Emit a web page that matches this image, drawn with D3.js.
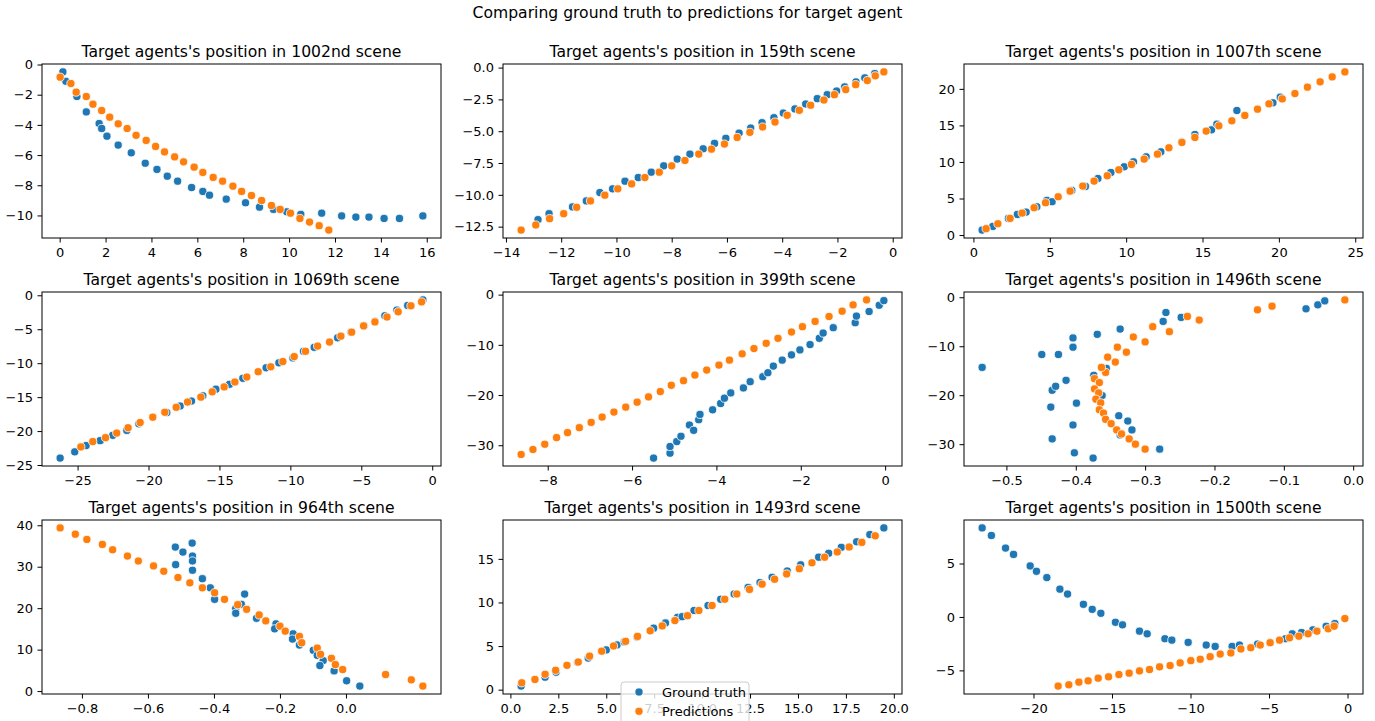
<!DOCTYPE html>
<html>
<head>
<meta charset="utf-8">
<script src="https://cdn.jsdelivr.net/npm/d3@7"></script>
<style>
  body { margin: 0; background: #fff; }
  text { font-family: "DejaVu Sans", sans-serif; }
</style>
</head>
<body>
<svg id="fig" width="1375" height="721"></svg>
<script>
// ground truth / prediction pairs [x, y]
var truth1002 = [[0.14,-0.49],[0.27,-1.11],[0.75,-2.12],[1.16,-3.14],[1.72,-3.91],[1.83,-4.24],[2.06,-4.75],[2.55,-5.34],[3.12,-5.85],[3.73,-6.54],[4.24,-6.95],[4.69,-7.4],[5.14,-7.73],[5.75,-8.15],[6.24,-8.41],[6.53,-8.66],[7.26,-8.92],[8.1,-9.16],[8.71,-9.45],[9.32,-9.6],[9.9,-9.76],[10.51,-9.93],[11.42,-9.85],[12.29,-10.03],[12.91,-10.11],[13.48,-10.11],[14.14,-10.2],[14.81,-10.2],[15.83,-10.03]];
var pred1002 = [[0.02,-0.84],[0.49,-1.26],[0.72,-1.83],[1.16,-2.12],[1.45,-2.63],[1.83,-3.05],[2.18,-3.49],[2.55,-3.93],[2.94,-4.24],[3.33,-4.69],[3.77,-5.03],[4.18,-5.43],[4.57,-5.79],[5.01,-6.12],[5.4,-6.45],[5.86,-6.8],[6.24,-7.15],[6.69,-7.48],[7.1,-7.73],[7.55,-8.06],[7.93,-8.41],[8.36,-8.68],[8.8,-9.01],[9.23,-9.34],[9.61,-9.6],[10.06,-9.85],[10.47,-10.2],[10.89,-10.44],[11.31,-10.68],[11.73,-10.97]];

var truth159 = [[-12.84,-11.95],[-12.44,-11.48],[-11.59,-10.95],[-11.09,-10.48],[-10.6,-9.82],[-10.14,-9.53],[-9.69,-8.93],[-9.21,-8.64],[-8.74,-8.22],[-8.29,-7.72],[-7.8,-7.19],[-7.34,-6.8],[-6.86,-6.38],[-6.45,-5.96],[-6.04,-5.56],[-5.56,-5.15],[-5.14,-4.75],[-4.73,-4.33],[-4.3,-3.94],[-3.96,-3.57],[-3.54,-3.25],[-3.15,-2.86],[-2.73,-2.44],[-2.37,-2.13],[-2.03,-1.84],[-1.74,-1.52],[-1.33,-1.13],[-1.01,-0.81],[-0.65,-0.47]];
var pred159 = [[-13.45,-12.77],[-12.92,-12.37],[-12.42,-11.87],[-11.91,-11.48],[-11.44,-10.98],[-10.94,-10.48],[-10.42,-10.03],[-9.95,-9.53],[-9.45,-9.14],[-8.97,-8.64],[-8.45,-8.22],[-8.0,-7.72],[-7.52,-7.3],[-7.02,-6.8],[-6.56,-6.41],[-6.09,-6.01],[-5.63,-5.49],[-5.17,-5.09],[-4.71,-4.67],[-4.26,-4.28],[-3.82,-3.75],[-3.38,-3.36],[-2.97,-2.96],[-2.49,-2.55],[-2.11,-2.13],[-1.7,-1.73],[-1.34,-1.34],[-0.92,-1.02],[-0.63,-0.65],[-0.32,-0.34]];

var truth1007 = [[0.57,0.68],[1.27,1.18],[2.29,2.28],[2.88,2.82],[3.45,3.14],[4.15,3.87],[4.81,4.74],[5.15,4.56],[6.44,6.1],[7.33,6.65],[8.15,7.74],[9.0,8.56],[9.87,9.34],[10.48,10.02],[11.31,10.71],[12.27,11.39],[13.65,12.76],[14.5,13.76],[15.59,14.4],[15.94,15.17],[17.25,17.04],[19.61,18.09],[20.09,18.86]];
var pred1007 = [[0.83,0.87],[1.6,1.55],[2.4,2.28],[3.19,3.01],[3.97,3.74],[4.72,4.42],[5.55,5.24],[6.33,6.01],[7.16,6.7],[7.9,7.38],[8.76,8.11],[9.52,8.93],[10.35,9.66],[11.18,10.39],[12.05,11.07],[12.8,11.94],[13.65,12.67],[14.5,13.35],[15.24,14.22],[16.07,14.94],[16.92,15.63],[17.77,16.36],[18.6,17.22],[19.35,17.95],[20.22,18.63],[21.05,19.36],[21.87,20.23],[22.7,20.96],[23.49,21.64],[24.32,22.32]];

var truth1069 = [[-26.23,-23.98],[-25.2,-23.06],[-24.4,-22.14],[-23.41,-21.41],[-22.52,-20.63],[-21.53,-19.9],[-20.68,-18.93],[-18.71,-17.28],[-17.77,-16.31],[-16.97,-15.58],[-16.17,-14.81],[-15.25,-13.83],[-14.29,-13.11],[-13.35,-12.23],[-11.71,-10.68],[-10.81,-9.95],[-9.82,-9.22],[-9.07,-8.25],[-8.32,-7.67],[-6.67,-6.26],[-5.73,-5.44],[-4.8,-4.51],[-4.04,-3.83],[-3.34,-3.01],[-2.49,-2.18],[-1.73,-1.5],[-0.66,-0.68]];
var pred1069 = [[-24.77,-22.33],[-23.93,-21.55],[-23.03,-20.97],[-22.24,-20.29],[-21.44,-19.51],[-20.59,-18.74],[-19.7,-17.96],[-18.85,-17.23],[-18.05,-16.5],[-17.25,-15.73],[-16.31,-15.0],[-15.51,-14.22],[-14.67,-13.5],[-13.91,-12.77],[-13.07,-12.04],[-12.27,-11.26],[-11.38,-10.53],[-10.53,-9.76],[-9.73,-9.03],[-8.93,-8.25],[-8.08,-7.48],[-7.24,-6.89],[-6.44,-6.02],[-5.68,-5.44],[-4.84,-4.51],[-4.04,-3.93],[-3.19,-3.2],[-2.4,-2.43],[-1.5,-1.55],[-0.75,-0.97]];

var truth399 = [[-5.49,-32.56],[-5.1,-31.58],[-5.1,-30.26],[-4.94,-29.27],[-4.84,-28.21],[-4.64,-25.97],[-4.54,-27.03],[-4.42,-24.92],[-4.39,-23.86],[-4.09,-22.94],[-3.9,-21.69],[-3.81,-20.63],[-3.66,-19.58],[-3.36,-18.59],[-3.2,-17.34],[-2.9,-16.35],[-2.78,-15.56],[-2.65,-14.24],[-2.44,-13.05],[-2.22,-12.0],[-2.02,-11.01],[-1.78,-9.95],[-1.56,-8.7],[-1.47,-7.65],[-1.23,-6.59],[-0.71,-5.6],[-0.68,-4.28],[-0.38,-3.36],[-0.14,-2.11],[-0.03,-1.19]];
var pred399 = [[-8.63,-31.84],[-8.35,-30.85],[-8.07,-29.8],[-7.79,-28.48],[-7.53,-27.49],[-7.25,-26.5],[-6.97,-25.45],[-6.71,-24.39],[-6.43,-23.4],[-6.15,-22.41],[-5.88,-21.42],[-5.61,-20.37],[-5.33,-19.31],[-5.07,-18.06],[-4.78,-17.14],[-4.51,-16.02],[-4.23,-15.03],[-3.94,-14.04],[-3.69,-13.05],[-3.39,-11.8],[-3.11,-10.74],[-2.82,-9.69],[-2.54,-8.7],[-2.22,-7.45],[-1.96,-6.39],[-1.66,-5.34],[-1.33,-4.35],[-1.02,-3.3],[-0.76,-2.04],[-0.44,-1.05]];

var truth1496 = [[-0.535,-14.32],[-0.449,-11.69],[-0.434,-18.99],[-0.436,-22.43],[-0.429,-18.18],[-0.434,-28.92],[-0.425,-11.69],[-0.414,-16.96],[-0.404,-8.31],[-0.404,-10.2],[-0.404,-26.08],[-0.402,-31.76],[-0.399,-21.62],[-0.375,-32.84],[-0.374,-15.95],[-0.369,-7.57],[-0.362,-20.07],[-0.356,-14.53],[-0.338,-24.19],[-0.336,-6.49],[-0.336,-28.11],[-0.325,-25.27],[-0.319,-27.09],[-0.279,-31.01],[-0.274,-4.93],[-0.27,-3.11],[-0.248,-4.12],[-0.068,-2.36],[-0.051,-1.55],[-0.041,-0.74]];
var pred1496 = [[-0.012,-0.54],[-0.117,-1.82],[-0.138,-2.57],[-0.222,-4.66],[-0.239,-3.92],[-0.265,-7.03],[-0.289,-6.01],[-0.3,-9.12],[-0.317,-8.11],[-0.327,-11.22],[-0.34,-10.2],[-0.343,-13.24],[-0.354,-12.23],[-0.357,-15.34],[-0.363,-14.32],[-0.373,-16.62],[-0.366,-17.43],[-0.373,-18.72],[-0.367,-19.53],[-0.371,-20.81],[-0.364,-21.55],[-0.366,-22.97],[-0.36,-23.65],[-0.357,-24.93],[-0.349,-25.81],[-0.341,-27.09],[-0.334,-27.91],[-0.323,-28.92],[-0.314,-30.0],[-0.3,-31.01]];

var truth964 = [[-0.517,34.73],[-0.494,33.53],[-0.466,35.69],[-0.465,32.57],[-0.465,31.38],[-0.465,29.14],[-0.516,30.5],[-0.435,27.11],[-0.411,24.91],[-0.398,22.12],[-0.307,23.39],[-0.317,20.92],[-0.334,19.88],[-0.334,18.76],[-0.271,17.56],[-0.212,16.21],[-0.216,15.01],[-0.16,13.81],[-0.162,12.54],[-0.141,11.1],[-0.099,9.82],[-0.087,8.62],[-0.069,7.35],[-0.079,6.15],[-0.036,4.87],[0.002,2.48],[0.042,1.2]];
var pred964 = [[-0.866,39.36],[-0.82,37.84],[-0.785,36.57],[-0.738,35.37],[-0.707,34.09],[-0.662,32.57],[-0.629,31.38],[-0.583,30.18],[-0.552,28.9],[-0.509,27.39],[-0.473,26.11],[-0.435,24.91],[-0.398,23.71],[-0.368,22.12],[-0.328,20.84],[-0.301,19.72],[-0.263,18.36],[-0.243,16.93],[-0.2,15.65],[-0.184,14.45],[-0.141,13.17],[-0.134,11.66],[-0.087,10.38],[-0.077,8.86],[-0.044,7.9],[-0.032,6.39],[-0.01,5.19],[0.12,3.99],[0.198,2.71],[0.233,1.2]];

var truth1493 = [[0.56,0.41],[1.81,1.43],[2.38,2.0],[3.51,3.13],[4.06,3.62],[5.0,4.56],[5.56,5.13],[5.94,5.47],[6.6,6.03],[7.47,7.05],[8.09,7.65],[8.72,8.29],[8.96,8.37],[9.58,9.08],[10.31,9.65],[10.97,10.37],[11.67,10.97],[12.4,11.72],[13.02,12.29],[13.65,12.89],[14.44,13.61],[15.14,14.32],[16.08,15.19],[16.6,15.64],[17.26,16.32],[18.06,16.96],[18.75,17.79],[19.48,18.55]];
var pred1493 = [[0.59,0.79],[1.28,1.17],[1.81,1.77],[2.36,2.22],[2.95,2.79],[3.54,3.17],[4.13,3.84],[4.76,4.41],[5.38,5.01],[6.01,5.54],[6.63,6.11],[7.29,6.75],[7.92,7.31],[8.58,7.92],[9.24,8.48],[9.83,9.08],[10.52,9.65],[11.18,10.37],[11.81,10.97],[12.47,11.5],[13.13,12.1],[13.78,12.66],[14.41,13.27],[15.07,13.87],[15.73,14.55],[16.39,15.19],[17.05,15.79],[17.67,16.36],[18.33,16.89],[19.03,17.64]];

var truth1500 = [[-23.27,8.33],[-22.68,7.62],[-21.78,6.44],[-21.27,5.85],[-20.21,4.77],[-19.81,4.27],[-19.15,3.68],[-18.32,2.6],[-17.83,2.14],[-16.82,1.18],[-16.26,0.71],[-15.71,0.34],[-14.78,-0.5],[-14.33,-0.74],[-13.25,-1.33],[-12.76,-1.58],[-11.63,-2.04],[-11.19,-2.17],[-10.15,-2.38],[-9.0,-2.63],[-8.43,-2.76],[-7.35,-2.76],[-6.88,-2.63],[-5.73,-2.54],[-4.93,-2.41],[-3.95,-2.04],[-3.52,-1.58],[-2.93,-1.46],[-2.21,-1.21],[-1.36,-0.87],[-0.81,-0.62]];
var pred1500 = [[-18.43,-6.47],[-17.75,-6.35],[-17.11,-6.1],[-16.52,-5.98],[-15.88,-5.73],[-15.22,-5.6],[-14.56,-5.39],[-13.91,-5.26],[-13.25,-5.05],[-12.61,-4.92],[-11.97,-4.67],[-11.3,-4.55],[-10.66,-4.3],[-9.98,-4.09],[-9.38,-3.96],[-8.75,-3.72],[-8.11,-3.47],[-7.43,-3.37],[-6.79,-3.0],[-6.16,-2.88],[-5.56,-2.63],[-4.93,-2.41],[-4.33,-2.17],[-3.69,-1.95],[-3.1,-1.8],[-2.51,-1.58],[-1.95,-1.33],[-1.23,-1.11],[-0.85,-0.87],[-0.17,-0.15]];

// tick labels
var xticks1002 = [0,2,4,6,8,10,12,14,16],  yticks1002 = [0,-2,-4,-6,-8,-10];
var xticks159  = [-14,-12,-10,-8,-6,-4,-2,0], yticks159 = [0,-2.5,-5,-7.5,-10,-12.5];
var xticks1007 = [0,5,10,15,20,25], yticks1007 = [0,5,10,15,20];
var xticks1069 = [-25,-20,-15,-10,-5,0], yticks1069 = [0,-5,-10,-15,-20,-25];
var xticks399  = [-8,-6,-4,-2,0], yticks399 = [0,-10,-20,-30];
var xticks1496 = [-0.5,-0.4,-0.3,-0.2,-0.1,0], yticks1496 = [0,-10,-20,-30];
var xticks964  = [-0.8,-0.6,-0.4,-0.2,0], yticks964 = [0,10,20,30,40];
var xticks1493 = [0,2.5,5,7.5,10,12.5,15,17.5,20], yticks1493 = [0,5,10,15];
var xticks1500 = [-20,-15,-10,-5,0], yticks1500 = [5,0,-5];

var seriesNames = ["Ground truth", "Predictions"];
var colors = ["#1f77b4", "#ff7f0e"];

var panels = [
  {scene: "1002nd", truth: truth1002, pred: pred1002, xt: xticks1002, yt: yticks1002, xf: "d",   yf: "d"},
  {scene: "159th",  truth: truth159,  pred: pred159,  xt: xticks159,  yt: yticks159,  xf: "d",   yf: ".1f"},
  {scene: "1007th", truth: truth1007, pred: pred1007, xt: xticks1007, yt: yticks1007, xf: "d",   yf: "d"},
  {scene: "1069th", truth: truth1069, pred: pred1069, xt: xticks1069, yt: yticks1069, xf: "d",   yf: "d"},
  {scene: "399th",  truth: truth399,  pred: pred399,  xt: xticks399,  yt: yticks399,  xf: "d",   yf: "d"},
  {scene: "1496th", truth: truth1496, pred: pred1496, xt: xticks1496, yt: yticks1496, xf: ".1f", yf: "d"},
  {scene: "964th",  truth: truth964,  pred: pred964,  xt: xticks964,  yt: yticks964,  xf: ".1f", yf: "d"},
  {scene: "1493rd", truth: truth1493, pred: pred1493, xt: xticks1493, yt: yticks1493, xf: ".1f", yf: "d", legend: true},
  {scene: "1500th", truth: truth1500, pred: pred1500, xt: xticks1500, yt: yticks1500, xf: "d",   yf: "d"}
];

var svg = d3.select("#fig");
svg.append("rect").attr("width", 1375).attr("height", 721).attr("fill", "#fff");

svg.append("text")
  .attr("x", 687.5).attr("y", 18)
  .attr("text-anchor", "middle")
  .attr("font-size", 15.6)
  .text("Comparing ground truth to predictions for target agent");

var colLeft = [42, 503, 964], rowTop = [64, 292, 520];
var w = 399, h = 174;

// matplotlib style 5% margins
function padded(ext) {
  var m = (ext[1] - ext[0]) * 0.05;
  return [ext[0] - m, ext[1] + m];
}

panels.forEach(function(p, i) {
  var left = colLeft[i % 3], top = rowTop[Math.floor(i / 3)];
  var all = p.truth.concat(p.pred);

  var x = d3.scaleLinear()
    .domain(padded(d3.extent(all, function(d) { return d[0]; })))
    .range([0, w]);
  var y = d3.scaleLinear()
    .domain(padded(d3.extent(all, function(d) { return d[1]; })))
    .range([h, 0]);

  var g = svg.append("g").attr("transform", "translate(" + left + "," + top + ")");

  // scatter, truth first then predictions on top
  [p.truth, p.pred].forEach(function(pts, k) {
    g.append("g").selectAll("circle")
      .data(pts)
      .enter().append("circle")
      .attr("cx", function(d) { return x(d[0]); })
      .attr("cy", function(d) { return y(d[1]); })
      .attr("r", 4.1)
      .attr("fill", colors[k])
      .attr("stroke", "#fff")
      .attr("stroke-width", 0.8);
  });

  var xAxis = g.append("g")
    .attr("transform", "translate(0," + h + ")")
    .call(d3.axisBottom(x).tickValues(p.xt).tickFormat(d3.format(p.xf))
      .tickSize(4.5).tickSizeOuter(0).tickPadding(5));
  var yAxis = g.append("g")
    .call(d3.axisLeft(y).tickValues(p.yt).tickFormat(d3.format(p.yf))
      .tickSize(4.5).tickSizeOuter(0).tickPadding(4.5));

  [xAxis, yAxis].forEach(function(a) {
    a.attr("font-family", "DejaVu Sans").attr("font-size", 13).attr("color", "#000");
    a.select(".domain").remove();
    a.selectAll(".tick line").attr("stroke-width", 1);
  });

  // frame
  g.append("rect")
    .attr("x", 0).attr("y", 0).attr("width", w).attr("height", h)
    .attr("fill", "none").attr("stroke", "#000").attr("stroke-width", 1);

  g.append("text")
    .attr("x", w / 2).attr("y", -7)
    .attr("text-anchor", "middle")
    .attr("font-size", 15.6)
    .text("Target agents's position in " + p.scene + " scene");

  if (p.legend) {
    var lg = g.append("g").attr("transform", "translate(118," + (h - 12) + ")");
    lg.append("rect")
      .attr("x", 0).attr("y", 0).attr("width", 128).attr("height", 50)
      .attr("rx", 3)
      .attr("fill", "#fff").attr("fill-opacity", 0.8)
      .attr("stroke", "#ccc").attr("stroke-width", 1);
    seriesNames.forEach(function(name, k) {
      lg.append("circle")
        .attr("cx", 18).attr("cy", 10 + k * 19.3).attr("r", 4.1)
        .attr("fill", colors[k]).attr("stroke", "#fff").attr("stroke-width", 0.8);
      lg.append("text")
        .attr("x", 41).attr("y", 14.5 + k * 19.3)
        .attr("font-size", 13)
        .text(name);
    });
  }
});
</script>
</body>
</html>
